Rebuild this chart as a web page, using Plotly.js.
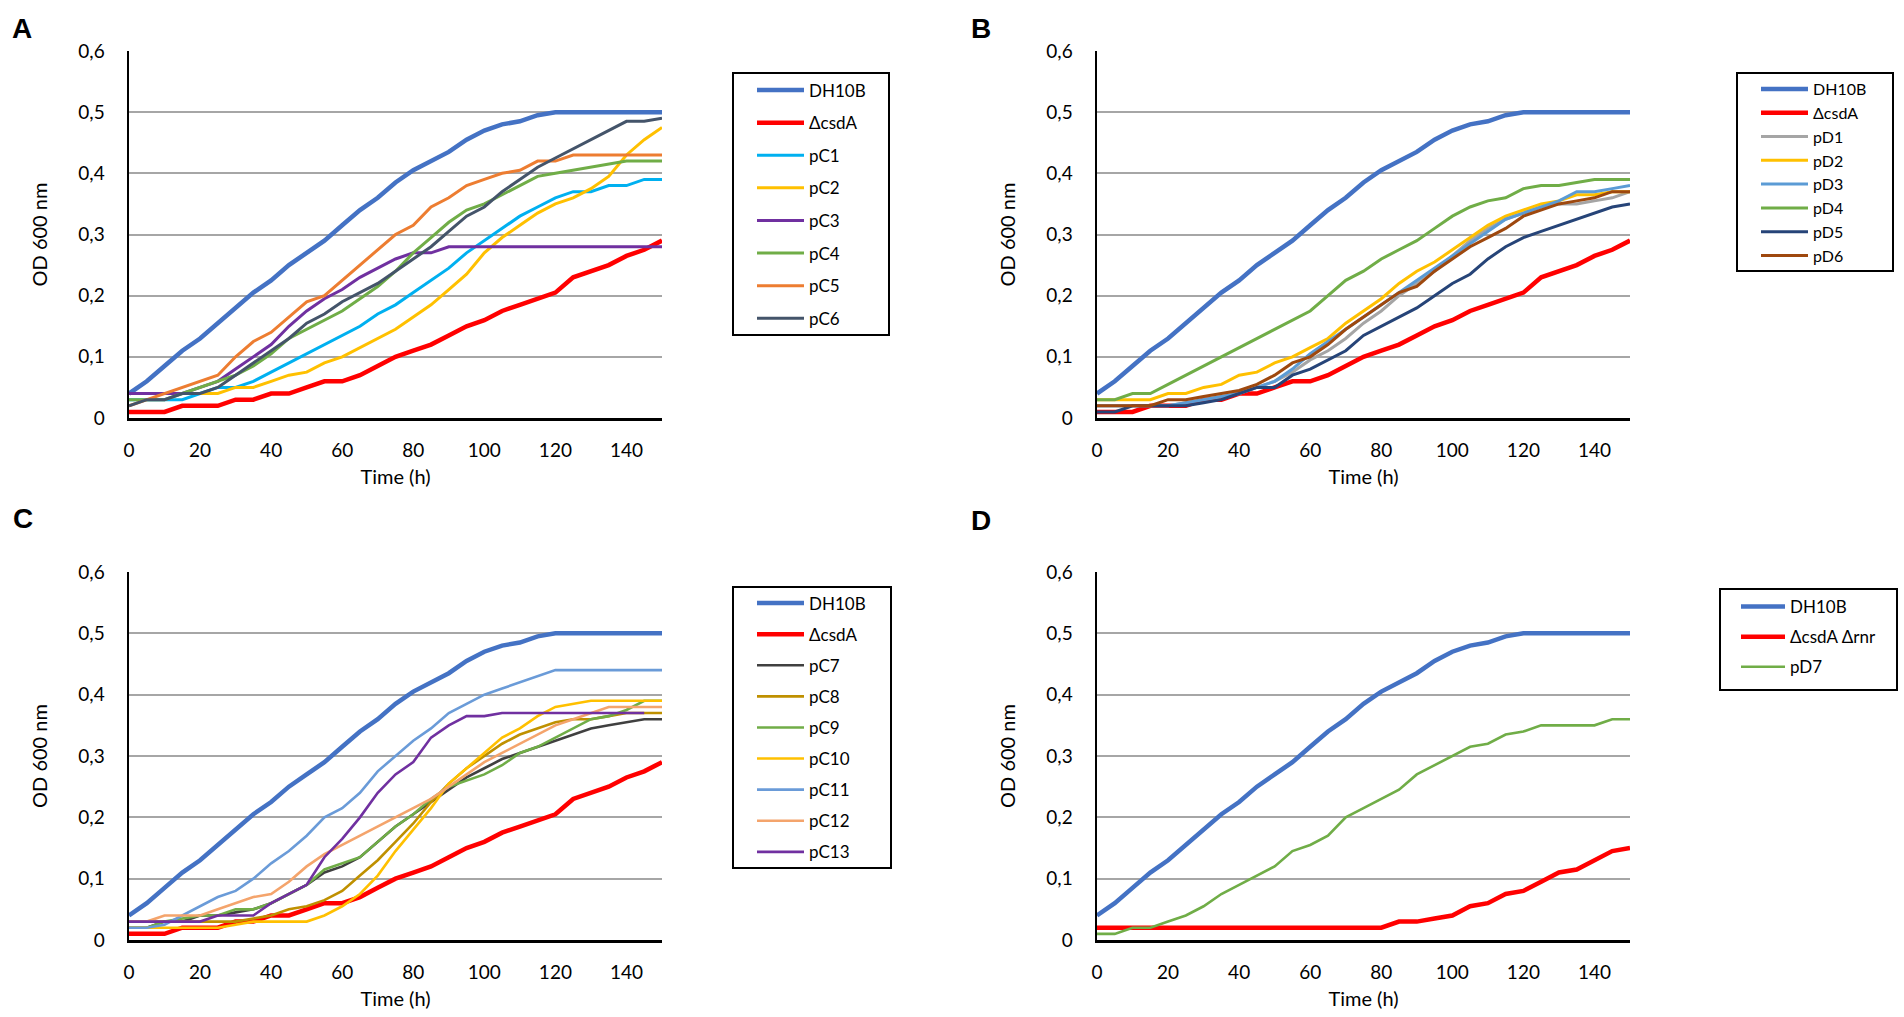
<!DOCTYPE html>
<html>
<head>
<meta charset="utf-8">
<script src="https://cdn.plot.ly/plotly-3.0.1.min.js"></script>
<style>html,body{margin:0;padding:0;background:#fff;}#chart{width:1904px;height:1017px;}</style>
</head>
<body>
<div id="chart"></div>
<script>
// ---- data (time in hours, OD 600 nm) ----
const time = [0,5,10,15,20,25,30,35,40,45,50,55,60,65,70,75,80,85,90,95,100,105,110,115,120,125,130,135,140,145,150];

const DH10B = [0.04,0.06,0.085,0.11,0.13,0.155,0.18,0.205,0.225,0.25,0.27,0.29,0.315,0.34,0.36,0.385,0.405,0.42,0.435,0.455,0.47,0.48,0.485,0.495,0.50,0.50,0.50,0.50,0.50,0.50,0.50];
const csdA = [0.01,0.01,0.01,0.02,0.02,0.02,0.03,0.03,0.04,0.04,0.05,0.06,0.06,0.07,0.085,0.10,0.11,0.12,0.135,0.15,0.16,0.175,0.185,0.195,0.205,0.23,0.24,0.25,0.265,0.275,0.29];
const csdArnr = [0.02,0.02,0.02,0.02,0.02,0.02,0.02,0.02,0.02,0.02,0.02,0.02,0.02,0.02,0.02,0.02,0.02,0.03,0.03,0.035,0.04,0.055,0.06,0.075,0.08,0.095,0.11,0.115,0.13,0.145,0.15];

// panel A
const pC1 = [0.03,0.03,0.03,0.03,0.04,0.05,0.05,0.06,0.075,0.09,0.105,0.12,0.135,0.15,0.17,0.185,0.205,0.225,0.245,0.27,0.29,0.31,0.33,0.345,0.36,0.37,0.37,0.38,0.38,0.39,0.39];
const pC2 = [0.04,0.04,0.04,0.04,0.04,0.04,0.05,0.05,0.06,0.07,0.075,0.09,0.10,0.115,0.13,0.145,0.165,0.185,0.21,0.235,0.27,0.295,0.315,0.335,0.35,0.36,0.375,0.395,0.43,0.455,0.475];
const pC3 = [0.04,0.04,0.04,0.04,0.05,0.06,0.08,0.10,0.12,0.15,0.175,0.195,0.21,0.23,0.245,0.26,0.27,0.27,0.28,0.28,0.28,0.28,0.28,0.28,0.28,0.28,0.28,0.28,0.28,0.28,0.28];
const pC4 = [0.03,0.03,0.03,0.04,0.05,0.06,0.07,0.085,0.105,0.13,0.145,0.16,0.175,0.195,0.215,0.24,0.27,0.295,0.32,0.34,0.35,0.365,0.38,0.395,0.40,0.405,0.41,0.415,0.42,0.42,0.42];
const pC5 = [0.02,0.03,0.04,0.05,0.06,0.07,0.10,0.125,0.14,0.165,0.19,0.20,0.225,0.25,0.275,0.30,0.315,0.345,0.36,0.38,0.39,0.40,0.405,0.42,0.42,0.43,0.43,0.43,0.43,0.43,0.43];
const pC6 = [0.02,0.03,0.03,0.04,0.04,0.05,0.07,0.09,0.11,0.13,0.155,0.17,0.19,0.205,0.22,0.24,0.26,0.28,0.305,0.33,0.345,0.37,0.39,0.41,0.425,0.44,0.455,0.47,0.485,0.485,0.49];

// panel B
const pD1 = [0.02,0.02,0.02,0.02,0.02,0.025,0.03,0.035,0.04,0.05,0.06,0.075,0.095,0.11,0.13,0.155,0.175,0.20,0.22,0.24,0.265,0.29,0.31,0.325,0.335,0.345,0.35,0.35,0.355,0.36,0.37];
const pD2 = [0.03,0.03,0.03,0.03,0.04,0.04,0.05,0.055,0.07,0.075,0.09,0.10,0.115,0.13,0.155,0.175,0.195,0.22,0.24,0.255,0.275,0.295,0.315,0.33,0.34,0.35,0.355,0.365,0.365,0.37,0.37];
const pD3 = [0.02,0.02,0.02,0.02,0.02,0.025,0.03,0.035,0.04,0.05,0.06,0.08,0.105,0.125,0.145,0.165,0.185,0.205,0.225,0.245,0.265,0.285,0.305,0.325,0.335,0.345,0.355,0.37,0.37,0.375,0.38];
const pD4 = [0.03,0.03,0.04,0.04,0.055,0.07,0.085,0.10,0.115,0.13,0.145,0.16,0.175,0.20,0.225,0.24,0.26,0.275,0.29,0.31,0.33,0.345,0.355,0.36,0.375,0.38,0.38,0.385,0.39,0.39,0.39];
const pD5 = [0.01,0.01,0.02,0.02,0.02,0.02,0.025,0.03,0.04,0.05,0.05,0.07,0.08,0.095,0.11,0.135,0.15,0.165,0.18,0.20,0.22,0.235,0.26,0.28,0.295,0.305,0.315,0.325,0.335,0.345,0.35];
const pD6 = [0.02,0.02,0.02,0.02,0.03,0.03,0.035,0.04,0.045,0.055,0.07,0.09,0.10,0.12,0.145,0.165,0.185,0.205,0.215,0.24,0.26,0.28,0.295,0.31,0.33,0.34,0.35,0.355,0.36,0.37,0.37];

// panel C
const pC7 = [0.02,0.02,0.03,0.03,0.04,0.04,0.045,0.05,0.06,0.075,0.09,0.11,0.12,0.135,0.16,0.185,0.205,0.225,0.245,0.265,0.28,0.295,0.305,0.315,0.325,0.335,0.345,0.35,0.355,0.36,0.36];
const pC8 = [0.03,0.03,0.03,0.03,0.03,0.03,0.03,0.035,0.04,0.05,0.055,0.065,0.08,0.105,0.13,0.16,0.19,0.225,0.255,0.28,0.30,0.32,0.335,0.345,0.355,0.36,0.36,0.365,0.37,0.37,0.37];
const pC9 = [0.02,0.02,0.03,0.035,0.04,0.04,0.05,0.05,0.06,0.075,0.09,0.115,0.125,0.135,0.16,0.185,0.205,0.23,0.25,0.26,0.27,0.285,0.305,0.315,0.33,0.345,0.36,0.365,0.375,0.39,0.39];
const pC10 = [0.02,0.02,0.02,0.02,0.02,0.02,0.025,0.03,0.03,0.03,0.03,0.04,0.055,0.075,0.105,0.145,0.18,0.215,0.255,0.28,0.305,0.33,0.345,0.365,0.38,0.385,0.39,0.39,0.39,0.39,0.39];
const pC11 = [0.02,0.02,0.025,0.04,0.055,0.07,0.08,0.10,0.125,0.145,0.17,0.20,0.215,0.24,0.275,0.30,0.325,0.345,0.37,0.385,0.40,0.41,0.42,0.43,0.44,0.44,0.44,0.44,0.44,0.44,0.44];
const pC12 = [0.03,0.03,0.04,0.04,0.04,0.05,0.06,0.07,0.075,0.095,0.12,0.14,0.155,0.17,0.185,0.20,0.215,0.23,0.25,0.27,0.29,0.305,0.32,0.335,0.35,0.36,0.37,0.38,0.38,0.38,0.38];
const pC13 = [0.03,0.03,0.03,0.03,0.03,0.04,0.04,0.04,0.06,0.075,0.09,0.135,0.165,0.20,0.24,0.27,0.29,0.33,0.35,0.365,0.365,0.37,0.37,0.37,0.37,0.37,0.37,0.37,0.37,0.37,null];

// panel D
const pD7 = [0.01,0.01,0.02,0.02,0.03,0.04,0.055,0.075,0.09,0.105,0.12,0.145,0.155,0.17,0.20,0.215,0.23,0.245,0.27,0.285,0.30,0.315,0.32,0.335,0.34,0.35,0.35,0.35,0.35,0.36,0.36];

// tick labels
const xTicks = [0,20,40,60,80,100,120,140];
const yTicks = [0,0.1,0.2,0.3,0.4,0.5,0.6];

// series per panel: [name, values, colour, width]
const panelA = [["DH10B",DH10B,"#4472C4",4.5],["ΔcsdA",csdA,"#FF0000",4.5],["pC1",pC1,"#00B0F0",3],["pC2",pC2,"#FFC000",3],["pC3",pC3,"#7030A0",3],["pC4",pC4,"#70AD47",3],["pC5",pC5,"#ED7D31",3],["pC6",pC6,"#44546A",3]];
const panelB = [["DH10B",DH10B,"#4472C4",4.5],["ΔcsdA",csdA,"#FF0000",4.5],["pD1",pD1,"#A5A5A5",3],["pD2",pD2,"#FFC000",3],["pD3",pD3,"#5B9BD5",3],["pD4",pD4,"#70AD47",3],["pD5",pD5,"#264478",3],["pD6",pD6,"#9E480E",3]];
const panelC = [["DH10B",DH10B,"#4472C4",4.5],["ΔcsdA",csdA,"#FF0000",4.5],["pC7",pC7,"#404040",2.6],["pC8",pC8,"#BF9000",2.6],["pC9",pC9,"#70AD47",2.6],["pC10",pC10,"#FFC000",2.6],["pC11",pC11,"#6A9BD8",2.6],["pC12",pC12,"#F4A46C",2.6],["pC13",pC13,"#7030A0",2.6]];
const panelD = [["DH10B",DH10B,"#4472C4",4.5],["ΔcsdA Δrnr",csdArnr,"#FF0000",4.5],["pD7",pD7,"#70AD47",2.6]];

const FONT = "Lato, 'Open Sans', sans-serif";
const W = 1904, H = 1017;

const traces = [];
function addPanel(series, idx) {
  const sfx = idx === 1 ? "" : String(idx);
  series.forEach(function(s, i) {
    traces.push({
      type: "scatter", mode: "lines",
      x: time, y: s[1], name: s[0],
      line: {color: s[2], width: s[3]},
      xaxis: "x" + sfx, yaxis: "y" + sfx,
      legend: "legend" + sfx,
      legendgroup: "g" + idx + "_" + i,
      connectgaps: false,
      hoverinfo: "x+y+name"
    });
  });
}
addPanel(panelA, 1); addPanel(panelB, 2); addPanel(panelC, 3); addPanel(panelD, 4);

function px2x(p) { return p / W; }
function px2y(p) { return 1 - p / H; }

function xAxis(l, r, anchor) {
  return {
    domain: [px2x(l), px2x(r)], anchor: anchor, range: [0, 150],
    tickvals: xTicks, ticks: "", showgrid: false, zeroline: false,
    showline: true, linecolor: "#000", linewidth: 2.5,
    ticklabelstandoff: 14,
    tickfont: {family: FONT, size: 19, color: "#000"},
    title: {text: "Time (h)", font: {family: FONT, size: 20, color: "#000"}, standoff: 10},
    fixedrange: true
  };
}
function yAxis(top, bottom, anchor) {
  return {
    domain: [px2y(bottom), px2y(top)], anchor: anchor, range: [0, 0.6],
    tickvals: yTicks, ticks: "", showgrid: true, gridcolor: "#A6A6A6", gridwidth: 2,
    zeroline: false, showline: true, linecolor: "#000", linewidth: 2.5,
    ticklabelstandoff: 18,
    tickfont: {family: FONT, size: 19, color: "#000"},
    title: {text: "OD 600 nm", font: {family: FONT, size: 20, color: "#000"}, standoff: 26},
    fixedrange: true
  };
}
// legend items: no plotly border; the frame is drawn as a paper shape
function legendAt(lpx, tpx, size, gap, iw) {
  return {
    x: px2x(lpx), y: px2y(tpx), xanchor: "left", yanchor: "top",
    bgcolor: "rgba(0,0,0,0)", borderwidth: 0,
    font: {family: FONT, size: size, color: "#000"},
    tracegroupgap: gap, itemwidth: iw, traceorder: "grouped",
    itemclick: false, itemdoubleclick: false
  };
}
// legend frames [left, top, right, bottom] in px
const legendFrames = [[733,73,889,335],[1737,73,1893,271],[733,587,891,868],[1720,589,1897,690]];

const letters = [["A",22,28],["B",981,28],["C",23,518],["D",981,520]];

const layout = {
  width: W, height: H,
  margin: {l: 0, r: 0, t: 0, b: 0},
  paper_bgcolor: "#fff", plot_bgcolor: "#fff",
  separators: ", ",
  showlegend: true,
  xaxis: xAxis(129, 662, "y"), yaxis: yAxis(51, 418, "x"),
  xaxis2: xAxis(1097, 1630, "y2"), yaxis2: yAxis(51, 418, "x2"),
  xaxis3: xAxis(129, 662, "y3"), yaxis3: yAxis(572, 940, "x3"),
  xaxis4: xAxis(1097, 1630, "y4"), yaxis4: yAxis(572, 940, "x4"),
  legend: legendAt(752, 72.5, 17, 7.5, 47),
  legend2: legendAt(1756, 72, 16, 0, 47),
  legend3: legendAt(752, 585.5, 17, 6, 47),
  legend4: legendAt(1736, 589, 17, 5, 44),
  shapes: legendFrames.map(function(f) {
    return {type: "rect", xref: "paper", yref: "paper",
      x0: px2x(f[0]), x1: px2x(f[2]), y0: px2y(f[3]), y1: px2y(f[1]),
      line: {color: "#000", width: 2}, fillcolor: "rgba(0,0,0,0)", layer: "above"};
  }),
  annotations: letters.map(function(a) {
    return {text: "<b>" + a[0] + "</b>", xref: "paper", yref: "paper",
      x: px2x(a[1]), y: px2y(a[2]), xanchor: "center", yanchor: "middle",
      showarrow: false, font: {family: "'Liberation Sans', Arial, sans-serif", size: 28, color: "#000"}};
  })
};

Plotly.newPlot("chart", traces, layout, {displayModeBar: false, staticPlot: true});
</script>
</body>
</html>
